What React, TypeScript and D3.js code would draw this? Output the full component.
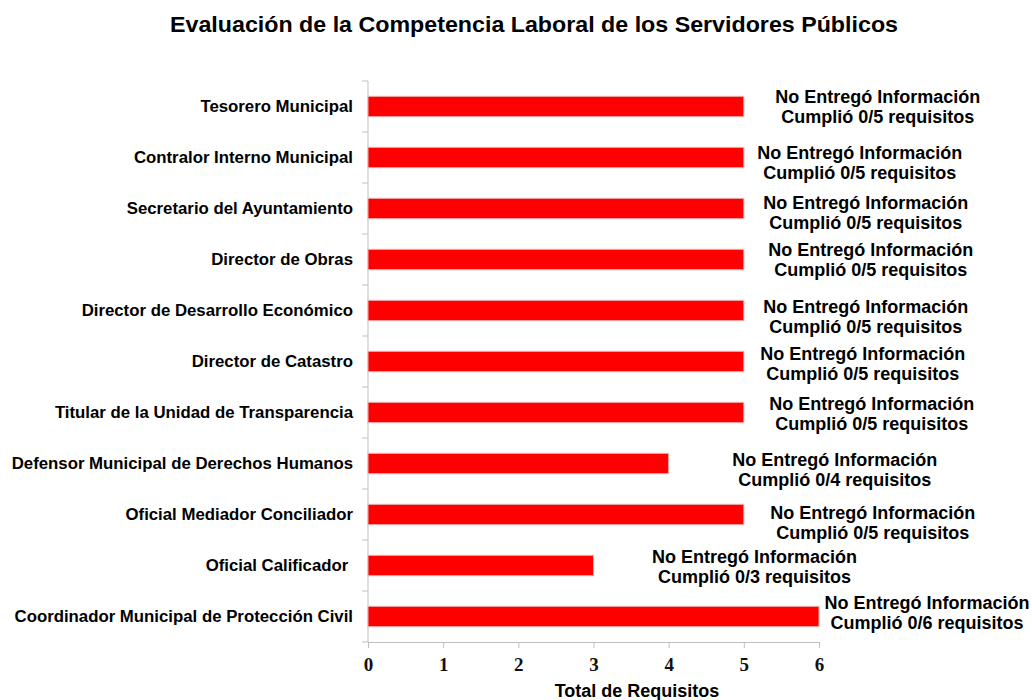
import React, { useEffect, useRef } from "react";
import * as d3 from "d3";

// chart data
const puestos = [
  "Tesorero Municipal",
  "Contralor Interno Municipal",
  "Secretario del Ayuntamiento",
  "Director de Obras",
  "Director de Desarrollo Económico",
  "Director de Catastro",
  "Titular de la Unidad de Transparencia",
  "Defensor Municipal de Derechos Humanos",
  "Oficial Mediador Conciliador",
  "Oficial Calificador ",
  "Coordinador Municipal de Protección Civil",
];
const totalRequisitos = [5, 5, 5, 5, 5, 5, 5, 4, 5, 3, 6];
const cumplidos = [0, 0, 0, 0, 0, 0, 0, 0, 0, 0, 0];
const xTicks = [0, 1, 2, 3, 4, 5, 6];

// hand placed label nudges (centre of note vs. bar end / band centre)
const noteDx = [134, 116, 122, 127, 122, 119, 128, 166, 129, 161, 108];
const noteDy = [0, 5, 4.5, 0, 6, 2, 1.5, 6, 8.5, 1.5, -4];

const App = () => {
  const ref = useRef<HTMLDivElement>(null);

  useEffect(() => {
    const W = 1032;
    const H = 700;
    const left = 368;
    const right = 819;
    const top = 81;
    const bottom = 642;
    const sans = "'Liberation Sans', Arial, sans-serif";
    const serif = "'Liberation Serif', 'Times New Roman', serif";
    const axisColor = "#bfbfbf";

    d3.select(ref.current).select("svg").remove();

    const svg = d3
      .select(ref.current)
      .append("svg")
      .attr("width", W)
      .attr("height", H)
      .style("display", "block")
      .style("background", "#fff");

    const x = d3.scaleLinear().domain([0, 6]).range([left, right]);
    const y = d3
      .scaleBand()
      .domain(puestos)
      .range([top, bottom])
      .paddingInner(0.6)
      .paddingOuter(0.3);
    const step = y.step();

    // title
    svg
      .append("text")
      .attr("x", 534)
      .attr("y", 32)
      .attr("text-anchor", "middle")
      .attr("font-family", sans)
      .attr("font-weight", "bold")
      .attr("font-size", 21.5)
      .attr("textLength", 728)
      .attr("lengthAdjust", "spacingAndGlyphs")
      .attr("fill", "#000")
      .text("Evaluación de la Competencia Laboral de los Servidores Públicos");

    // y axis line + boundary ticks
    svg
      .append("line")
      .attr("x1", left)
      .attr("x2", left)
      .attr("y1", top)
      .attr("y2", bottom)
      .attr("stroke", axisColor);

    const bounds = d3.range(puestos.length + 1).map((i) => top + i * step);
    svg
      .selectAll(".ytick")
      .data(bounds)
      .enter()
      .append("line")
      .attr("x1", left - 6)
      .attr("x2", left)
      .attr("y1", (d) => d)
      .attr("y2", (d) => d)
      .attr("stroke", axisColor);

    // x axis
    const xAxis = svg
      .append("g")
      .attr("transform", `translate(0,${bottom})`)
      .call(
        d3
          .axisBottom(x)
          .tickValues(xTicks)
          .tickSize(6)
          .tickPadding(10)
          .tickFormat((d) => String(d))
      );
    xAxis.select(".domain").attr("stroke", axisColor).attr("d", `M${left},0.5H${right}`);
    xAxis.selectAll(".tick line").attr("stroke", axisColor);
    xAxis
      .selectAll(".tick text")
      .attr("font-family", serif)
      .attr("font-weight", "bold")
      .attr("font-size", 19)
      .attr("fill", "#111");

    svg
      .append("text")
      .attr("x", 637)
      .attr("y", 697)
      .attr("text-anchor", "middle")
      .attr("font-family", sans)
      .attr("font-weight", "bold")
      .attr("font-size", 18)
      .attr("fill", "#000")
      .text("Total de Requisitos");

    // category labels
    svg
      .selectAll(".cat")
      .data(puestos)
      .enter()
      .append("text")
      .attr("x", 353)
      .attr("y", (d) => (y(d) as number) + y.bandwidth() / 2)
      .attr("dy", "0.35em")
      .attr("text-anchor", "end")
      .attr("font-family", sans)
      .attr("font-weight", "bold")
      .attr("font-size", 16.8)
      .attr("fill", "#000")
      .style("white-space", "pre")
      .text((d) => d);

    // bars
    svg
      .selectAll(".bar")
      .data(puestos)
      .enter()
      .append("rect")
      .attr("x", x(0))
      .attr("y", (d) => y(d) as number)
      .attr("width", (d, i) => x(totalRequisitos[i]) - x(0))
      .attr("height", y.bandwidth())
      .attr("fill", "#ff0000")
      .attr("stroke", "#e9b3b3")
      .attr("stroke-width", 1);

    // notes
    const notes = svg
      .selectAll(".note")
      .data(puestos)
      .enter()
      .append("text")
      .attr("text-anchor", "middle")
      .attr("font-family", sans)
      .attr("font-weight", "bold")
      .attr("font-size", 18)
      .attr("fill", "#000");

    notes.each(function (d, i) {
      const cx = x(totalRequisitos[i]) + noteDx[i];
      const cy = (y(d) as number) + y.bandwidth() / 2 + noteDy[i];
      const t = d3.select(this);
      t.append("tspan")
        .attr("x", cx)
        .attr("y", cy - 10)
        .attr("dy", "0.35em")
        .text("No Entregó Información");
      t.append("tspan")
        .attr("x", cx)
        .attr("y", cy + 10)
        .attr("dy", "0.35em")
        .text(`Cumplió ${cumplidos[i]}/${totalRequisitos[i]} requisitos`);
    });
  }, []);

  return (
    <div
      ref={ref}
      style={{ position: "absolute", left: 0, top: 0, width: 1032, height: 700, overflow: "hidden" }}
    ></div>
  );
};

export default App;
